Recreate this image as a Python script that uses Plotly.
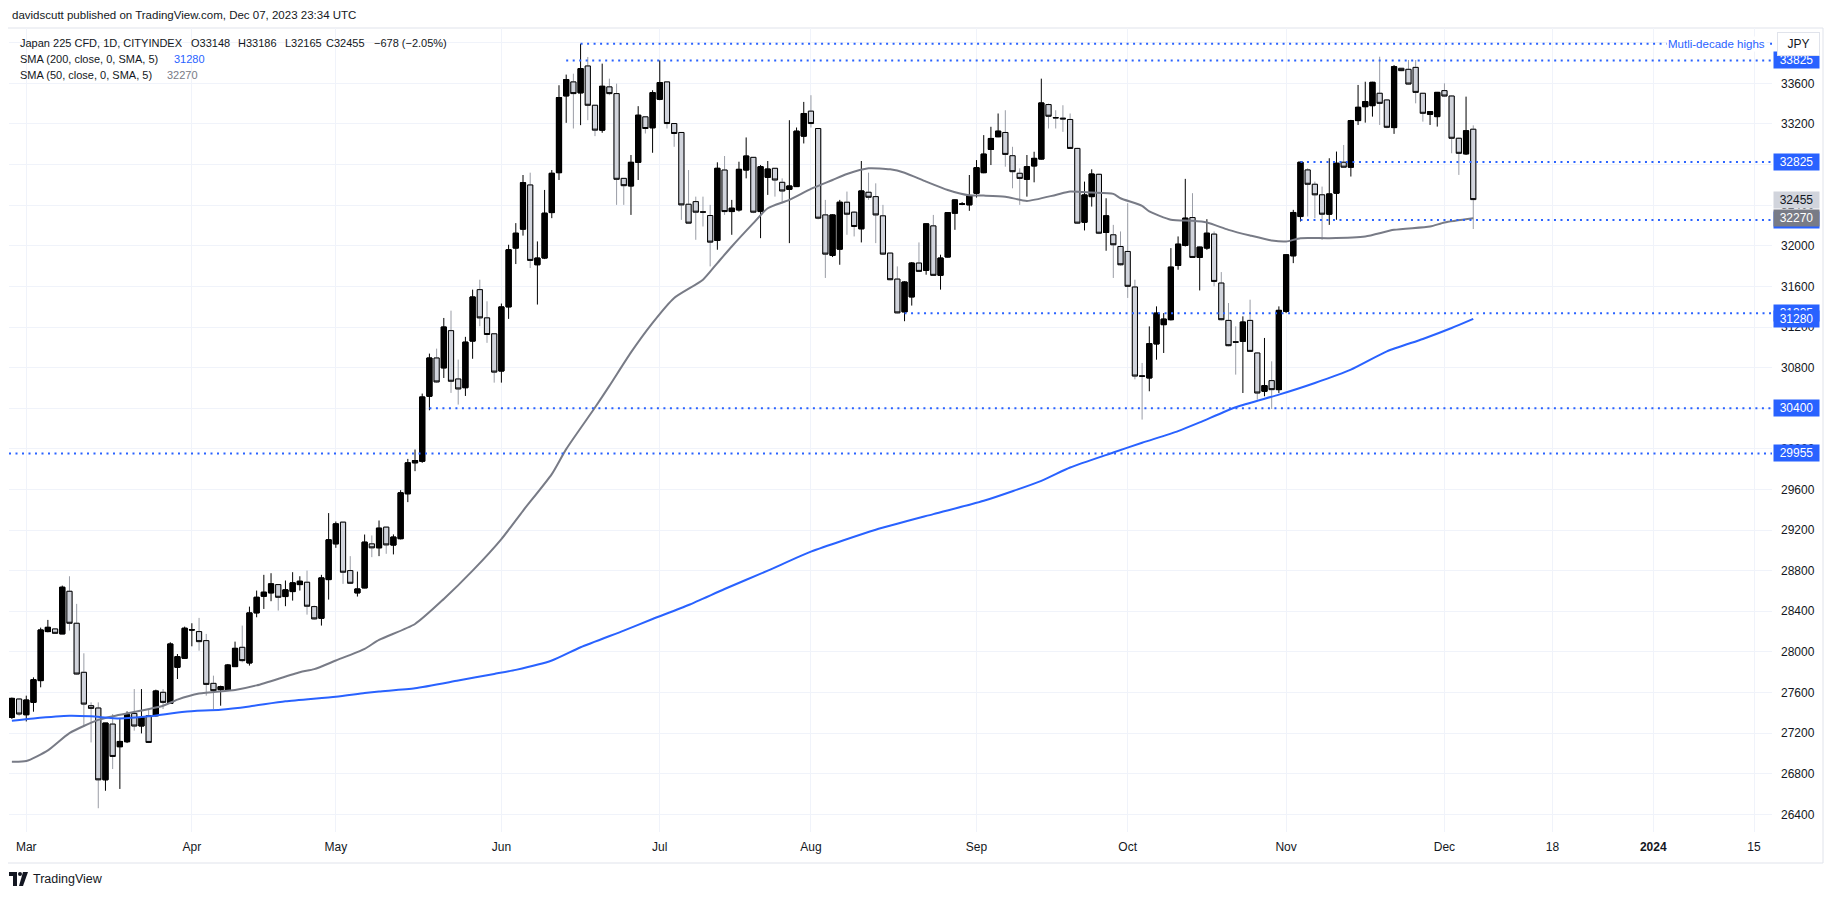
import pandas as pd
import plotly.graph_objects as go

# daily bars, Japan 225 CFD (CITYINDEX)
dates = pd.bdate_range("2023-02-27", "2023-12-07")

opens = [27355, 27536, 27381, 27503, 27717, 28200, 28226, 28177, 28597, 28282,
         27799, 27470, 27447, 26740, 27289, 27066, 27115, 27394, 27270, 27371,
         27371, 27602, 27493, 27848, 27937, 28216, 28200, 28111, 27690, 27628,
         27628, 27855, 28045, 27891, 28384, 28548, 28581, 28663, 28545, 28594,
         28663, 28686, 28446, 28331, 28712, 29064, 29278, 28801, 28581, 28630,
         29064, 29025, 29229, 29052, 29115, 29557, 29862, 29878, 30518, 30895,
         30797, 31164, 30688, 30602, 31061, 31568, 31290, 31133, 30766, 31398,
         31977, 32164, 32599, 31813, 31879, 32327, 32720, 33476, 33614, 33506,
         33771, 33384, 33139, 33565, 33499, 32664, 32589, 32822, 33270, 33162,
         33443, 33614, 33204, 33116, 32409, 32435, 32335, 32298, 32052, 32746,
         32337, 32353, 32746, 32871, 32337, 32674, 32763, 32625, 32556, 32583,
         33080, 33326, 33155, 32304, 31905, 31967, 32429, 32331, 32167, 32527,
         32484, 32295, 31928, 31672, 31349, 31496, 31830, 31758, 32196, 31709,
         31889, 32321, 32410, 32403, 32517, 32720, 32949, 33074, 33116, 32887,
         32714, 32655, 32786, 32854, 33391, 33263, 33257, 33244, 32959, 32232,
         32484, 32704, 32131, 32108, 31993, 31944, 31594, 30720, 30698, 31033,
         31223, 31272, 31806, 32003, 32278, 31885, 31977, 32115, 31633, 31265,
         31055, 31059, 31265, 30944, 30567, 30672, 30583, 31354, 31901, 32288,
         32747, 32606, 32502, 32311, 32518, 32823, 32774, 33233, 33370, 33380,
         33502, 33436, 33164, 33748, 33738, 33757, 33502, 33295, 33272, 33528,
         33475, 33059, 32905, 33148]
highs = [27550, 27540, 27569, 27749, 28239, 28315, 28230, 28653, 28745, 28473,
         27986, 27503, 27503, 27300, 27388, 27350, 27414, 27634, 27634, 27437,
         27628, 27634, 28095, 27979, 28249, 28282, 28335, 28177, 27766, 27667,
         27881, 28101, 28259, 28446, 28604, 28759, 28775, 28663, 28703, 28785,
         28745, 28801, 28456, 28759, 29367, 29284, 29278, 28943, 28791, 29156,
         29147, 29294, 29229, 29157, 29593, 29901, 29993, 30544, 30938, 30987,
         31289, 31361, 30879, 31103, 31568, 31666, 31453, 31133, 31431, 32010,
         32223, 32697, 32720, 32043, 32550, 32746, 33581, 33686, 33695, 33990,
         33860, 33384, 33794, 33646, 33597, 32664, 32894, 33375, 33270, 33532,
         33826, 33614, 33204, 33116, 32746, 32484, 32484, 32403, 32822, 32884,
         32452, 32828, 33067, 32871, 32795, 32835, 32763, 32664, 33237, 33165,
         33417, 33483, 33160, 32452, 32310, 32452, 32534, 32340, 32835, 32720,
         32615, 32403, 31930, 31797, 31650, 31840, 32033, 32220, 32304, 31912,
         32330, 32455, 32430, 32697, 32844, 33090, 33172, 33303, 33335, 32975,
         32763, 32894, 32926, 33646, 33400, 33335, 33384, 33303, 32965, 32632,
         32753, 32710, 32468, 32206, 32141, 32419, 31666, 30846, 31206, 31403,
         31337, 31977, 32092, 32659, 32518, 31990, 32262, 32141, 31741, 31436,
         31206, 31305, 31469, 30950, 31092, 30862, 31403, 31915, 32354, 32829,
         32764, 32632, 32583, 32862, 32928, 32993, 33240, 33584, 33616, 33615,
         33862, 33440, 33780, 33750, 33830, 33830, 33505, 33325, 33515, 33600,
         33480, 33065, 33469, 33186]
lows = [27340, 27370, 27315, 27411, 27651, 28193, 28180, 28177, 28210, 27776,
        27260, 27108, 26460, 26632, 26846, 26650, 27102, 27224, 27197, 27102,
        27365, 27437, 27487, 27733, 27930, 28055, 28012, 27569, 27437, 27470,
        27618, 27855, 27897, 27865, 28341, 28423, 28499, 28407, 28450, 28505,
        28604, 28367, 28318, 28259, 28515, 29025, 28670, 28670, 28545, 28627,
        28933, 28943, 28966, 28960, 29108, 29475, 29780, 29862, 30380, 30650,
        30698, 30551, 30436, 30521, 30887, 31208, 31044, 30652, 30652, 31280,
        31820, 32100, 31781, 31421, 31869, 32272, 32648, 33211, 33155, 33188,
        33237, 33080, 33113, 33483, 32403, 32403, 32304, 32648, 33106, 32916,
        33434, 33155, 32975, 32255, 32223, 32059, 32190, 31797, 31961, 32304,
        32108, 32337, 32664, 32321, 32075, 32501, 32484, 32419, 32026, 32583,
        33008, 33165, 32260, 31683, 31889, 31813, 32108, 32092, 32033, 32452,
        32026, 31910, 31660, 31335, 31257, 31411, 31745, 31715, 31705, 31568,
        31885, 32157, 32400, 32344, 32475, 32715, 32795, 33070, 32779, 32566,
        32403, 32484, 32625, 32850, 33155, 33155, 33122, 32955, 32215, 32151,
        32386, 32115, 31951, 31683, 31805, 31486, 30684, 30288, 30567, 30878,
        30944, 31265, 31764, 31993, 31880, 31560, 31960, 31600, 31265, 31010,
        30731, 30550, 30955, 30485, 30518, 30393, 30550, 31337, 31829, 32239,
        32288, 32272, 32059, 32206, 32256, 32770, 32682, 33190, 33213, 33272,
        33190, 33157, 33102, 33720, 33590, 33403, 33223, 33190, 33174, 33469,
        32911, 32698, 32895, 32165]
closes = [27542, 27388, 27526, 27726, 28216, 28242, 28183, 28637, 28282, 27782,
          27486, 27444, 26740, 27299, 26970, 27118, 27381, 27270, 27355, 27108,
          27615, 27503, 28078, 27953, 28233, 28218, 28101, 27680, 27618, 27658,
          27871, 28035, 27914, 28384, 28538, 28588, 28670, 28538, 28611, 28680,
          28696, 28450, 28325, 28729, 29104, 29261, 28785, 28676, 28620, 29081,
          29025, 29219, 29054, 29131, 29567, 29862, 29885, 30511, 30895, 30659,
          31200, 30666, 30590, 31051, 31496, 31290, 31126, 30756, 31398, 31961,
          32124, 32622, 31856, 31879, 32321, 32714, 33460, 33637, 33499, 33745,
          33384, 33139, 33571, 33499, 32655, 32592, 32822, 33286, 33155, 33509,
          33607, 33204, 33106, 32403, 32223, 32331, 32331, 32036, 32763, 32337,
          32370, 32753, 32884, 32331, 32779, 32756, 32648, 32540, 32589, 33129,
          33303, 33204, 32272, 31918, 32304, 32429, 32311, 32190, 32540, 32478,
          32304, 31918, 31666, 31339, 31643, 31830, 31748, 32216, 31709, 31879,
          32327, 32452, 32412, 32494, 32769, 32903, 33057, 33129, 32900, 32730,
          32664, 32779, 32861, 33407, 33276, 33260, 33250, 32959, 32223, 32501,
          32707, 32124, 32295, 32010, 31813, 31601, 30717, 30714, 31036, 31337,
          31278, 31790, 32016, 32272, 31885, 31987, 32124, 31649, 31272, 31016,
          31050, 31249, 30960, 30550, 30623, 30583, 31364, 31911, 32328, 32823,
          32606, 32502, 32311, 32511, 32813, 32774, 33233, 33364, 33420, 33610,
          33403, 33167, 33764, 33725, 33593, 33511, 33305, 33321, 33511, 33475,
          33059, 32911, 33133, 32455]

# moving averages, sampled off the chart at these bar numbers
sma50_bar = [0, 2, 5, 8, 12, 15, 21, 23, 26, 31, 34, 40, 42, 45, 49, 51, 56, 60,
             64, 68, 71, 75, 77, 81, 83, 86, 89, 92, 96, 98, 100, 103, 105, 108,
             111, 114, 116, 119, 122, 124, 127, 130, 133, 135, 138, 141, 145, 147,
             150, 153, 154, 157, 158, 161, 164, 166, 169, 172, 175, 177, 179, 183,
             188, 192, 197, 199, 203]
sma50_val = [26918, 26925, 27030, 27200, 27330, 27380, 27470, 27530, 27590, 27625,
             27670, 27800, 27830, 27915, 28030, 28118, 28275, 28521, 28800, 29111,
             29390, 29751, 29997, 30407, 30620, 30950, 31241, 31486, 31666, 31830,
             31993, 32223, 32370, 32452, 32560, 32648, 32707, 32763, 32753, 32720,
             32632, 32550, 32497, 32494, 32484, 32442, 32501, 32534, 32524, 32511,
             32468, 32393, 32338, 32256, 32246, 32229, 32157, 32101, 32052, 32042,
             32075, 32075, 32092, 32157, 32190, 32229, 32270]
sma200_bar = [0, 3, 8, 11, 15, 19, 24, 29, 33, 38, 45, 49, 51, 56, 62, 67, 70, 75,
              79, 85, 89, 94, 99, 105, 111, 120, 128, 135, 143, 147, 153, 157, 162,
              165, 170, 176, 181, 186, 191, 196, 200, 203]
sma200_val = [27322, 27345, 27371, 27365, 27345, 27365, 27411, 27431, 27463, 27513,
              27559, 27595, 27610, 27642, 27718, 27783, 27823, 27915, 28046, 28210,
              28324, 28462, 28619, 28800, 28987, 29203, 29357, 29488, 29685, 29816,
              29964, 30060, 30175, 30260, 30410, 30534, 30649, 30780, 30960, 31082,
              31190, 31280]

# drawn horizontal levels and the bar they start from
levels = [33990, 33825, 32825, 32255, 31335, 30400, 29955]
level_from = ["2023-06-16", "2023-06-14", "2023-11-03", "2023-11-03",
              "2023-08-18", "2023-05-18", None]

tick_dates = ["2023-03-01", "2023-04-03", "2023-05-01", "2023-06-01", "2023-07-03",
              "2023-08-01", "2023-09-01", "2023-10-02", "2023-11-01", "2023-12-01",
              "2023-12-18", "2024-01-01", "2024-01-15"]
tick_text = ["Mar", "Apr", "May", "Jun", "Jul", "Aug", "Sep", "Oct", "Nov", "Dec",
             "18", "<b>2024</b>", "15"]

BLUE = "#2962ff"
GREY = "#787b86"
TXT = "#131722"
FONT = "Liberation Sans"

# the page body has an 8px margin, so the figure is a bit smaller than the window
W, H = 1819, 881
L, R, T, B = 1, 55, 20, 57
# plot box in window pixels
PX0, PX1, PY0, PY1 = 9, 1772, 28, 832


def px_x(px):
    return (px - PX0) / (PX1 - PX0)


def px_y(py):
    return (PY1 - py) / (PY1 - PY0)


def bar_pos(d):
    d = pd.Timestamp(d)
    if d <= dates[-1]:
        return int(dates.get_indexer([d])[0])
    return len(dates) - 1 + (d - dates[-1]).days


bars = list(range(len(dates)))
x_min, x_max = -0.4, 244.5
y_min, y_max = 26226, 34145

fig = go.Figure()

# full candles (down candles have grey wicks)
fig.add_trace(go.Candlestick(
    x=bars, open=opens, high=highs, low=lows, close=closes,
    increasing=dict(line=dict(color="#000000", width=1), fillcolor="#000000"),
    decreasing=dict(line=dict(color="#9a9da6", width=1), fillcolor="#d1d4dc"),
    hoverinfo="skip", showlegend=False))
# bodies again so the down candles get a black outline
fig.add_trace(go.Candlestick(
    x=bars, open=opens, close=closes,
    high=[max(o, c) for o, c in zip(opens, closes)],
    low=[min(o, c) for o, c in zip(opens, closes)],
    increasing=dict(line=dict(color="#000000", width=1), fillcolor="#000000"),
    decreasing=dict(line=dict(color="#000000", width=1), fillcolor="#d1d4dc"),
    hoverinfo="skip", showlegend=False))

fig.add_trace(go.Scatter(x=sma50_bar, y=sma50_val, mode="lines",
                         line=dict(color=GREY, width=2, shape="spline", smoothing=0.6),
                         hoverinfo="skip", showlegend=False))
fig.add_trace(go.Scatter(x=sma200_bar, y=sma200_val, mode="lines",
                         line=dict(color=BLUE, width=2, shape="spline", smoothing=0.6),
                         hoverinfo="skip", showlegend=False))

shapes = []
for lv, start in zip(levels, level_from):
    x0 = bar_pos(start) if start else x_min
    shapes.append(dict(type="line", xref="x", yref="y", x0=x0, x1=x_max, y0=lv, y1=lv,
                       line=dict(color=BLUE, width=2, dash="2px,4.5px")))

# outer frame of the chart
shapes.append(dict(type="rect", xref="paper", yref="paper",
                   x0=px_x(5), x1=px_x(1823), y0=px_y(863), y1=px_y(28),
                   line=dict(color="#e0e3eb", width=1), layer="below"))

# TradingView mark bottom-left
shapes += [
    dict(type="rect", xref="paper", yref="paper", x0=px_x(9), x1=px_x(17),
         y0=px_y(876), y1=px_y(872), fillcolor="#131722", line_width=0),
    dict(type="rect", xref="paper", yref="paper", x0=px_x(13), x1=px_x(17),
         y0=px_y(886), y1=px_y(872), fillcolor="#131722", line_width=0),
    dict(type="circle", xref="paper", yref="paper", x0=px_x(18), x1=px_x(22),
         y0=px_y(876), y1=px_y(872), fillcolor="#131722", line_width=0),
    dict(type="path", xref="paper", yref="paper",
         path=f"M {px_x(23)},{px_y(872)} L {px_x(28)},{px_y(872)} "
              f"L {px_x(23)},{px_y(886)} L {px_x(19)},{px_y(886)} Z",
         fillcolor="#131722", line_width=0),
]

ann = []


def text_at(px, py, s, size=11, color=TXT):
    ann.append(dict(xref="paper", yref="paper", x=px_x(px), y=px_y(py), text=s,
                    showarrow=False, xanchor="left", yanchor="middle",
                    font=dict(family=FONT, size=size, color=color)))


text_at(10, 15, "davidscutt published on TradingView.com, Dec 07, 2023 23:34 UTC", 11.5)
text_at(18, 43, "Japan 225 CFD, 1D, CITYINDEX")
text_at(189, 43, "O33148")
text_at(236, 43, "H33186")
text_at(283, 43, "L32165")
text_at(324, 43, "C32455")
text_at(372, 43, "\u2212678 (\u22122.05%)")
text_at(18, 59, "SMA (200, close, 0, SMA, 5)")
text_at(172, 59, "31280", color=BLUE)
text_at(18, 75, "SMA (50, close, 0, SMA, 5)")
text_at(165, 75, "32270", color=GREY)
text_at(31, 879, "TradingView", 12.5)

ann.append(dict(xref="paper", yref="y", x=px_x(1767), y=levels[0], text="Mutli-decade highs",
                showarrow=False, xanchor="right", yanchor="middle", bgcolor="#ffffff",
                font=dict(family=FONT, size=11.5, color=BLUE)))

# price scale labels
price_tags = [(33825, BLUE, "#ffffff"), (32825, BLUE, "#ffffff"),
              (32255, BLUE, "#ffffff"), (31335, BLUE, "#ffffff"),
              (30400, BLUE, "#ffffff"), (29955, BLUE, "#ffffff"),
              (closes[-1], "#d1d4dc", TXT), (sma50_val[-1], GREY, "#ffffff"),
              (sma200_val[-1], BLUE, "#ffffff")]
for val, bg, fg in price_tags:
    ann.append(dict(xref="paper", yref="y", x=px_x(1773), y=val, text=str(val),
                    showarrow=False, xanchor="left", yanchor="middle",
                    width=45, height=16, borderpad=0, bgcolor=bg, align="center",
                    font=dict(family=FONT, size=12, color=fg)))

ann.append(dict(xref="paper", yref="paper", x=px_x(1777), y=px_y(44), text="JPY",
                showarrow=False, xanchor="left", yanchor="middle", width=41, height=22,
                bgcolor="#ffffff", bordercolor="#e0e3eb", borderwidth=1, borderpad=0,
                font=dict(family=FONT, size=12, color=TXT)))

fig.update_layout(
    width=W, height=H,
    margin=dict(l=L, r=R, t=T, b=B, pad=0, autoexpand=False),
    paper_bgcolor="#ffffff", plot_bgcolor="#ffffff",
    showlegend=False, hovermode=False, dragmode=False,
    boxgap=0.2, boxgroupgap=0.1,
    font=dict(family=FONT, size=12, color=TXT),
    shapes=shapes, annotations=ann,
    xaxis=dict(range=[x_min, x_max], tickvals=[bar_pos(d) for d in tick_dates],
               ticktext=tick_text, showgrid=True, gridcolor="#f0f3fa", zeroline=False,
               showline=False, ticks="", ticklabelstandoff=6, rangeslider=dict(visible=False),
               tickfont=dict(family=FONT, size=12, color=TXT), fixedrange=True),
    yaxis=dict(range=[y_min, y_max], side="right", dtick=400, tick0=0, tickformat="d",
               showgrid=True, gridcolor="#f0f3fa", zeroline=False, showline=False,
               ticks="", ticklabelstandoff=8,
               tickfont=dict(family=FONT, size=12, color=TXT), fixedrange=True),
)

fig.write_html("out.html", config={"displayModeBar": False})
